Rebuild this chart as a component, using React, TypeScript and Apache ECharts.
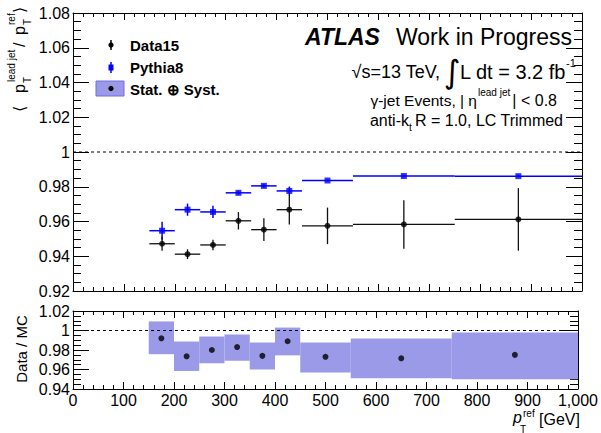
import React, { useEffect, useRef } from "react";
import * as echarts from "echarts";

// ---- data ----
const binLo = [150, 200, 250, 300, 350, 400, 450, 550, 750];
const binHi = [200, 250, 300, 350, 400, 450, 550, 750, 1000];
const binCenter = [175, 225, 275, 325, 375, 425, 500, 650, 875];
const data15 = [0.9472, 0.9412, 0.9465, 0.9604, 0.9553, 0.9668, 0.9575, 0.9583, 0.9612];
const data15Err = [0.004, 0.0028, 0.003, 0.005, 0.0065, 0.0085, 0.0105, 0.014, 0.018];
const pythia8 = [0.9547, 0.9668, 0.9655, 0.9765, 0.9805, 0.9776, 0.9836, 0.9862, 0.9861];
const pythia8Err = [0.0052, 0.0035, 0.0035, 0.001, 0.001, 0.0025, 0.0005, 0.0005, 0.0005];
const ratio = [0.992, 0.9735, 0.98, 0.983, 0.974, 0.989, 0.973, 0.9715, 0.975];
const bandLo = [0.9757, 0.9585, 0.9665, 0.969, 0.96, 0.9745, 0.957, 0.951, 0.95];
const bandHi = [1.0093, 0.9887, 0.9938, 0.9959, 0.9877, 1.003, 0.9877, 0.9918, 0.998];

const FONT = "Liberation Sans, Arial, Helvetica, sans-serif";
const BAND = "#9a9ae9";

function fmt(v: number) {
  return String(parseFloat(Number(v).toFixed(2)));
}

function errRender(color: string, lw: number) {
  return (params: any, api: any) => {
    const xc = api.value(0), y = api.value(1), xl = api.value(2), xh = api.value(3), e = api.value(4);
    const pL = api.coord([xl, y]);
    const pH = api.coord([xh, y]);
    const pT = api.coord([xc, y + e]);
    const pB = api.coord([xc, y - e]);
    return {
      type: "group",
      children: [
        { type: "line", shape: { x1: pL[0], y1: pL[1], x2: pH[0], y2: pH[1] }, style: { stroke: color, lineWidth: lw } },
        { type: "line", shape: { x1: pT[0], y1: pT[1], x2: pB[0], y2: pB[1] }, style: { stroke: color, lineWidth: lw } },
      ],
    };
  };
}

function bandRender(params: any, api: any) {
  const xl = api.value(2), xh = api.value(3), lo = api.value(4), hi = api.value(5);
  const p1 = api.coord([xl, hi]);
  const p2 = api.coord([xh, lo]);
  return {
    type: "rect",
    shape: { x: p1[0], y: p1[1], width: p2[0] - p1[0], height: p2[1] - p1[1] },
    style: { fill: BAND },
  };
}

function xAxis(grid: number, pos: "bottom" | "top", labels: boolean) {
  return {
    type: "value",
    gridIndex: grid,
    position: pos,
    min: 0,
    max: 1000,
    interval: 100,
    axisLine: { show: true, onZero: false, lineStyle: { color: "#000", width: 1 } },
    axisTick: { show: true, inside: true, length: 7, lineStyle: { color: "#000" } },
    minorTick: { show: true, splitNumber: 5, length: 4, lineStyle: { color: "#000" } },
    splitLine: { show: false },
    axisLabel: {
      show: labels,
      margin: 3,
      color: "#000",
      fontSize: 16,
      fontFamily: FONT,
      showMinLabel: true,
      showMaxLabel: true,
    },
  };
}

function yAxis(grid: number, pos: "left" | "right", labels: boolean, min: number, max: number) {
  return {
    type: "value",
    gridIndex: grid,
    position: pos,
    min,
    max,
    interval: 0.02,
    axisLine: { show: true, onZero: false, lineStyle: { color: "#000", width: 1 } },
    axisTick: { show: true, inside: true, length: 16, lineStyle: { color: "#000" } },
    minorTick: { show: true, splitNumber: 4, length: 8, lineStyle: { color: "#000" } },
    splitLine: { show: false },
    axisLabel: {
      show: labels,
      margin: 3,
      color: "#000",
      fontSize: 16,
      fontFamily: FONT,
      formatter: fmt,
      showMinLabel: true,
      showMaxLabel: true,
    },
  };
}

function txt(x: number, y: number, text: string, size: number, opts: any = {}) {
  return {
    type: "text",
    x,
    y,
    z: 100,
    style: {
      text,
      fontSize: size,
      fontFamily: opts.family || FONT,
      fontWeight: opts.weight || "normal",
      fontStyle: opts.style || "normal",
      fill: opts.fill || "#000",
      textAlign: opts.align || "left",
      textVerticalAlign: "middle",
    },
  };
}

export default function App() {
  const ref = useRef<HTMLDivElement>(null);
  useEffect(() => {
    if (!ref.current) return;
    const chart = echarts.init(ref.current, null, { renderer: "svg" });

    const d15Rows = binCenter.map((x, i) => [x, data15[i], binLo[i], binHi[i], data15Err[i]]);
    const pyRows = binCenter.map((x, i) => [x, pythia8[i], binLo[i], binHi[i], pythia8Err[i]]);
    const bandRows = binCenter.map((x, i) => [x, ratio[i], binLo[i], binHi[i], bandLo[i], bandHi[i]]);

    const yTitle = {
      type: "group",
      x: 19,
      y: 112,
      rotation: Math.PI / 2,
      children: [
        { type: "text", x: 0, y: 0, style: { text: "⟨", fontSize: 16, fontFamily: "DejaVu Sans", fill: "#000", textVerticalAlign: "middle" } },
        { type: "text", x: 19, y: 0, style: { text: "p", fontSize: 16, fontFamily: FONT, fill: "#000", textVerticalAlign: "middle" } },
        { type: "text", x: 29, y: 8, style: { text: "T", fontSize: 10, fontFamily: FONT, fill: "#000", textVerticalAlign: "middle" } },
        { type: "text", x: 30, y: -8, style: { text: "lead jet", fontSize: 10, fontFamily: FONT, fill: "#000", textVerticalAlign: "middle" } },
        { type: "text", x: 65, y: 0, style: { text: "/", fontSize: 16, fontFamily: FONT, fill: "#000", textVerticalAlign: "middle" } },
        { type: "text", x: 77, y: 0, style: { text: "p", fontSize: 16, fontFamily: FONT, fill: "#000", textVerticalAlign: "middle" } },
        { type: "text", x: 87, y: 8, style: { text: "T", fontSize: 10, fontFamily: FONT, fill: "#000", textVerticalAlign: "middle" } },
        { type: "text", x: 87, y: -8, style: { text: "ref", fontSize: 10, fontFamily: FONT, fill: "#000", textVerticalAlign: "middle" } },
        { type: "text", x: 99, y: 0, style: { text: "⟩", fontSize: 16, fontFamily: "DejaVu Sans", fill: "#000", textVerticalAlign: "middle" } },
      ],
    };

    const ratioTitle = {
      type: "group",
      x: 21,
      y: 349,
      rotation: Math.PI / 2,
      children: [
        { type: "text", x: 0, y: 0, style: { text: "Data / MC", fontSize: 15, fontFamily: FONT, fill: "#000", textAlign: "center", textVerticalAlign: "middle" } },
      ],
    };

    const graphic: any[] = [
      yTitle,
      ratioTitle,
      // x title
      txt(513, 417, "p", 16, { style: "italic" }),
      txt(523, 413.5, "ref", 10),
      txt(520, 429, "T", 10),
      txt(539, 419, "[GeV]", 16),
      // ATLAS label
      txt(305, 37, "ATLAS", 23, { weight: "bold", style: "italic" }),
      txt(572, 37, "Work in Progress", 23, { align: "right" }),
      txt(440, 72, "√s=13 TeV,", 18, { align: "right" }),
      txt(452, 72, "∫", 32, { align: "center", family: "DejaVu Sans" }),
      txt(460, 72, "L dt = 3.2 fb", 20),
      txt(566, 63, "-1", 11),
      txt(477, 100, "γ-jet Events, | η", 15.5, { align: "right" }),
      txt(478, 92, "lead jet", 10),
      txt(557, 100, "| < 0.8", 16, { align: "right" }),
      txt(409, 120, "anti-k", 16, { align: "right" }),
      txt(409, 127, "t", 10),
      txt(563, 120, "R = 1.0, LC Trimmed", 16, { align: "right" }),
      // legend
      { type: "line", z: 100, shape: { x1: 111, y1: 40, x2: 111, y2: 50 }, style: { stroke: "#000", lineWidth: 1.5 } },
      { type: "circle", z: 101, shape: { cx: 111, cy: 45, r: 2.6 }, style: { fill: "#000" } },
      txt(130, 45, "Data15", 15, { weight: "bold" }),
      { type: "line", z: 100, shape: { x1: 111, y1: 62, x2: 111, y2: 73 }, style: { stroke: "#0000ff", lineWidth: 1.5 } },
      { type: "rect", z: 101, shape: { x: 108.5, y: 64.5, width: 5, height: 6 }, style: { fill: "#0000ff" } },
      txt(130, 67, "Pythia8", 15, { weight: "bold" }),
      { type: "rect", z: 100, shape: { x: 96, y: 81, width: 28, height: 15 }, style: { fill: BAND, stroke: "#7070d8", lineWidth: 1 } },
      { type: "circle", z: 101, shape: { cx: 111, cy: 88.5, r: 2.6 }, style: { fill: "#000" } },
      txt(130, 89, "Stat. ⊕ Syst.", 15, { weight: "bold" }),
    ];

    const option: any = {
      animation: false,
      backgroundColor: "#fff",
      grid: [
        { left: 73, top: 13, width: 509, height: 278 },
        { left: 73, top: 311, width: 509, height: 78 },
      ],
      xAxis: [
        xAxis(0, "bottom", false),
        xAxis(0, "top", false),
        xAxis(1, "bottom", true),
        xAxis(1, "top", false),
      ],
      yAxis: [
        yAxis(0, "left", true, 0.92, 1.08),
        yAxis(0, "right", false, 0.92, 1.08),
        yAxis(1, "left", true, 0.94, 1.02),
        yAxis(1, "right", false, 0.94, 1.02),
      ],
      graphic,
      series: [
        {
          type: "line",
          xAxisIndex: 0,
          yAxisIndex: 0,
          data: [[0, 1], [1000, 1]],
          symbol: "none",
          lineStyle: { color: "#000", width: 1, type: [3, 3] },
          z: 2,
          silent: true,
        },
        {
          type: "custom",
          xAxisIndex: 0,
          yAxisIndex: 0,
          data: pyRows,
          encode: { x: 0, y: 1 },
          renderItem: errRender("#0000ff", 1.5),
          z: 3,
        },
        {
          type: "scatter",
          xAxisIndex: 0,
          yAxisIndex: 0,
          data: binCenter.map((x, i) => [x, pythia8[i]]),
          symbol: "rect",
          symbolSize: 6,
          itemStyle: { color: "#0000ff" },
          z: 4,
        },
        {
          type: "custom",
          xAxisIndex: 0,
          yAxisIndex: 0,
          data: d15Rows,
          encode: { x: 0, y: 1 },
          renderItem: errRender("#111", 1.3),
          z: 5,
        },
        {
          type: "scatter",
          xAxisIndex: 0,
          yAxisIndex: 0,
          data: binCenter.map((x, i) => [x, data15[i]]),
          symbol: "circle",
          symbolSize: 6,
          itemStyle: { color: "#000" },
          z: 6,
        },
        {
          type: "custom",
          xAxisIndex: 2,
          yAxisIndex: 2,
          data: bandRows,
          encode: { x: 0, y: 1 },
          renderItem: bandRender,
          z: 1,
        },
        {
          type: "line",
          xAxisIndex: 2,
          yAxisIndex: 2,
          data: [[0, 1], [1000, 1]],
          symbol: "none",
          lineStyle: { color: "#000", width: 1, type: [3, 3] },
          z: 2,
          silent: true,
        },
        {
          type: "scatter",
          xAxisIndex: 2,
          yAxisIndex: 2,
          data: binCenter.map((x, i) => [x, ratio[i]]),
          symbol: "circle",
          symbolSize: 6,
          itemStyle: { color: "#000" },
          z: 3,
        },
      ],
    };
    chart.setOption(option);
    return () => chart.dispose();
  }, []);

  return (
    <div
      ref={ref}
      style={{ position: "fixed", left: 0, top: 0, width: 601, height: 433, background: "#fff" }}
    />
  );
}
